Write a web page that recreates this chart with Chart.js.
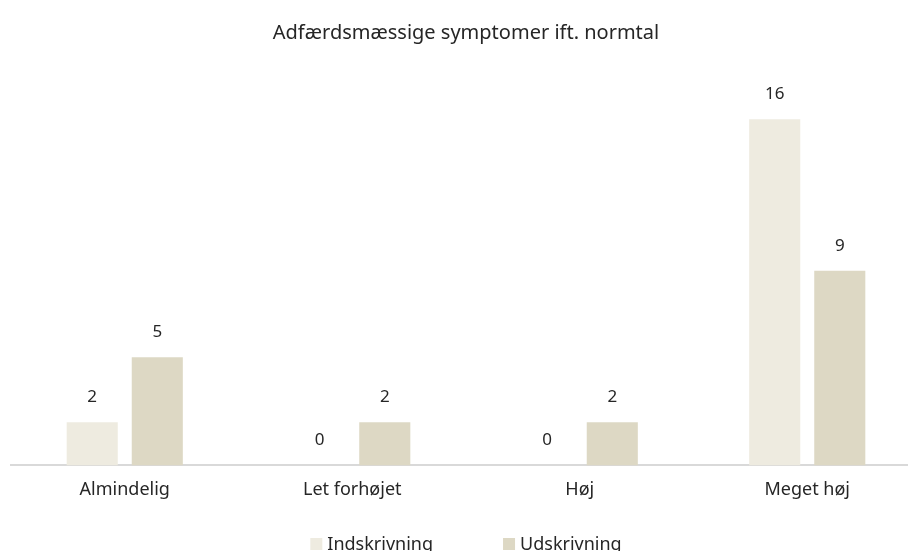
<!DOCTYPE html>
<html>
<head>
<meta charset="utf-8">
<script src="https://cdn.jsdelivr.net/npm/chart.js@4"></script>
<style>
  html, body { margin: 0; padding: 0; background: #fff; overflow: hidden; }
  #wrap { width: 932px; height: 566px; }
</style>
</head>
<body>
<div id="wrap"><canvas id="chart" width="932" height="566"></canvas></div>
<script>
// chart data
const categories = ['Almindelig', 'Let forhøjet', 'Høj', 'Meget høj'];
const indskrivning = [2, 0, 0, 16];
const udskrivning = [5, 2, 2, 9];
const seriesNames = ['Indskrivning', 'Udskrivning'];
const seriesColors = ['#EEEBE0', '#DDD8C4'];

const FONT = "'Noto Sans', sans-serif";

// draws the value above each bar
const valueLabels = {
    id: 'valueLabels',
    afterDatasetsDraw(chart) {
        const ctx = chart.ctx;
        ctx.save();
        ctx.font = '17px ' + FONT;
        ctx.fillStyle = '#262626';
        ctx.textAlign = 'center';
        ctx.textBaseline = 'middle';
        chart.data.datasets.forEach((ds, i) => {
            chart.getDatasetMeta(i).data.forEach((bar, j) => {
                ctx.fillText(String(ds.data[j]), bar.x, bar.y - 25);
            });
        });
        ctx.restore();
    }
};

// excel-like legend at the bottom (wider gap between items than the built-in one)
const bottomLegend = {
    id: 'bottomLegend',
    afterDraw(chart) {
        const ctx = chart.ctx;
        const box = 12, textGap = 5, itemGap = 70;
        ctx.save();
        ctx.font = '18px ' + FONT;
        ctx.textBaseline = 'middle';
        ctx.textAlign = 'left';
        const items = chart.data.datasets.map(ds => ({
            text: ds.label, color: ds.backgroundColor,
            w: box + textGap + ctx.measureText(ds.label).width
        }));
        const total = items.reduce((s, it) => s + it.w, 0) + itemGap * (items.length - 1);
        let x = chart.width / 2 - total / 2;
        const y = chart.height - 21;
        items.forEach(it => {
            ctx.fillStyle = it.color;
            ctx.fillRect(x, y - 7, box, box);
            ctx.fillStyle = '#262626';
            ctx.fillText(it.text, x + box + textGap, y);
            x += it.w + itemGap;
        });
        ctx.restore();
    }
};

new Chart(document.getElementById('chart'), {
    type: 'bar',
    data: {
        labels: categories,
        datasets: [
            { label: seriesNames[0], data: indskrivning, backgroundColor: seriesColors[0] },
            { label: seriesNames[1], data: udskrivning, backgroundColor: seriesColors[1] }
        ]
    },
    options: {
        responsive: false,
        animation: false,
        layout: { padding: { left: 11, right: 11, top: 10, bottom: 59 } },
        datasets: {
            bar: { categoryPercentage: 0.572, barPercentage: 0.785 }
        },
        scales: {
            x: {
                grid: { display: false },
                border: { color: '#D9D9D9', width: 2 },
                ticks: { color: '#262626', font: { family: FONT, size: 18 }, padding: 6 }
            },
            y: { display: false, min: 0, max: 18 }
        },
        plugins: {
            title: {
                display: true,
                text: 'Adfærdsmæssige symptomer ift. normtal',
                color: '#262626',
                font: { family: FONT, size: 20, weight: 'normal' },
                padding: { top: 11, bottom: 31 }
            },
            legend: { display: false },
            tooltip: { enabled: false }
        }
    },
    plugins: [valueLabels, bottomLegend]
});
</script>
</body>
</html>
